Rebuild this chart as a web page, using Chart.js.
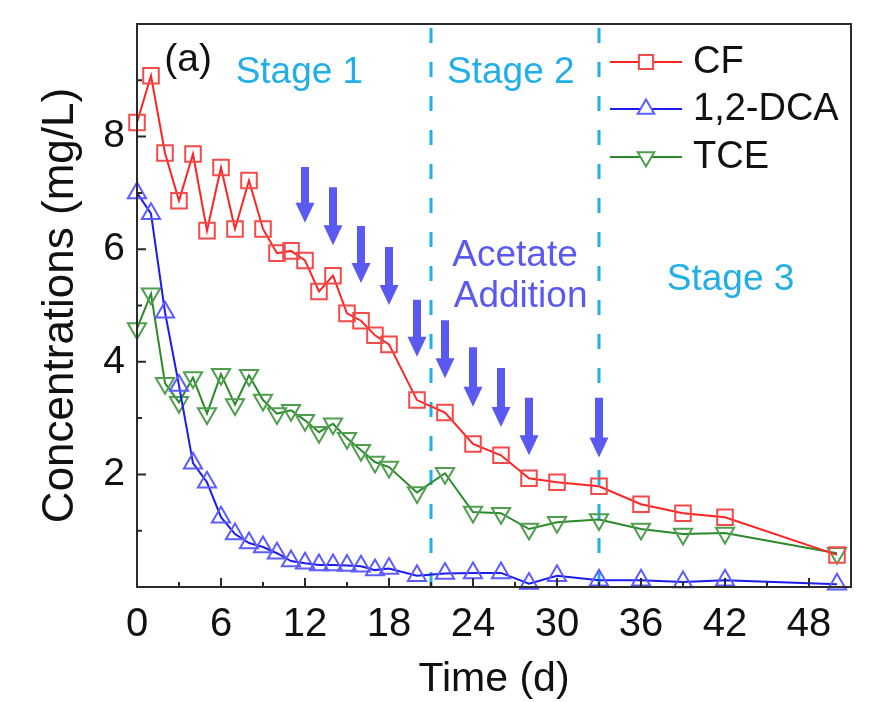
<!DOCTYPE html>
<html>
<head>
<meta charset="utf-8">
<script src="https://cdn.jsdelivr.net/npm/chart.js@4.4.0/dist/chart.umd.min.js"></script>
<style>
  html, body { margin: 0; padding: 0; background: #fff; }
  #wrap { width: 886px; height: 702px; }
</style>
</head>
<body>
<div id="wrap"><canvas id="myChart" width="886" height="702"></canvas></div>
<script>
"use strict"

// Data: time (d) and concentrations (mg/L)

const days = [0, 1, 2, 3, 4, 5, 6, 7, 8, 9, 10, 11, 12, 13, 14, 15, 16, 17, 18, 20, 22, 24, 26, 28, 30, 33, 36, 39, 42, 50];
const cf  = [8.25, 9.08, 7.71, 6.86, 7.69, 6.33, 7.45, 6.36, 7.22, 6.36, 5.93, 5.97, 5.80, 5.25, 5.53, 4.86, 4.73, 4.47, 4.31, 3.32, 3.10, 2.54, 2.34, 1.93, 1.86, 1.79, 1.47, 1.31, 1.24, 0.57];
const dca = [7.00, 6.63, 4.88, 3.58, 2.20, 1.86, 1.24, 0.94, 0.78, 0.71, 0.60, 0.46, 0.42, 0.39, 0.39, 0.38, 0.37, 0.30, 0.33, 0.20, 0.24, 0.25, 0.25, 0.06, 0.20, 0.12, 0.12, 0.09, 0.12, 0.05];
const tce = [4.59, 5.21, 3.62, 3.28, 3.72, 3.08, 3.78, 3.24, 3.76, 3.32, 3.08, 3.14, 2.96, 2.75, 2.90, 2.64, 2.43, 2.22, 2.13, 1.68, 2.02, 1.33, 1.31, 1.03, 1.15, 1.20, 1.03, 0.94, 0.96, 0.60];

const stageDays = [21, 33];

// acetate additions: day, arrow start and tip (mg/L)
const arrowDays = [12, 14, 16, 18, 20, 22, 24, 26, 28, 33];
const arrowFrom = [7.46, 7.10, 6.41, 6.04, 5.10, 4.74, 4.26, 3.89, 3.36, 3.36];
const arrowTo   = [6.47, 6.07, 5.40, 5.01, 4.09, 3.71, 3.20, 2.84, 2.34, 2.30];

const xTicks = [0, 6, 12, 18, 24, 30, 36, 42, 48];
const xMinor = [3, 9, 15, 21, 27, 33, 39, 45];
const yTicks = [2, 4, 6, 8];
const yMinor = [1, 3, 5, 7, 9];

const FONT = '"Liberation Sans", Arial, sans-serif';
const STAGE_BLUE = '#22aee6';
const ARROW_BLUE = '#5a5af2';

const pts = (vals) => days.map((d, i) => ({ x: d, y: vals[i] }));

function series(label, vals, color, marker, style, rot, radius) {
    return {
        label: label,
        data: pts(vals),
        borderColor: color,
        borderWidth: 2,
        pointStyle: style,
        pointRotation: rot,
        pointRadius: radius,
        pointHoverRadius: radius,
        pointBorderColor: marker,
        pointBorderWidth: 2,
        pointBackgroundColor: 'rgba(0,0,0,0)',
        clip: false,
        tension: 0,
    };
}

const stageSets = stageDays.map(d => ({
    label: '',
    data: [{ x: d, y: 0 }, { x: d, y: 10 }],
    borderColor: STAGE_BLUE,
    borderWidth: 3,
    borderDash: [15, 19],
    pointRadius: 0,
}));

const notes = [
    { text: '(a)', x: 3.65, y: 9.35, color: '#111', size: 39, base: 'middle' },
    { text: 'Stage 1', x: 11.6, y: 8.95, color: STAGE_BLUE, size: 37, base: 'alphabetic' },
    { text: 'Stage 2', x: 26.7, y: 8.95, color: STAGE_BLUE, size: 37, base: 'alphabetic' },
    { text: 'Acetate', x: 27.0, y: 5.70, color: ARROW_BLUE, size: 37, base: 'alphabetic' },
    { text: 'Addition', x: 27.4, y: 4.97, color: ARROW_BLUE, size: 37, base: 'alphabetic' },
    { text: 'Stage 3', x: 42.4, y: 5.28, color: STAGE_BLUE, size: 37, base: 'alphabetic' },
];

// frame, inner ticks, arrows, notes and legend

const overlay = {
    id: 'overlay',
    afterDatasetsDraw(chart) {
        const { ctx, chartArea: a, scales: { x, y } } = chart;
        ctx.save();

        ctx.strokeStyle = '#2b2b2b';
        ctx.lineWidth = 2;
        ctx.strokeRect(a.left, a.top, a.right - a.left, a.bottom - a.top);

        ctx.beginPath();
        xTicks.forEach(v => { const p = x.getPixelForValue(v); ctx.moveTo(p, a.bottom); ctx.lineTo(p, a.bottom - 9); });
        xMinor.forEach(v => { const p = x.getPixelForValue(v); ctx.moveTo(p, a.bottom); ctx.lineTo(p, a.bottom - 5); });
        yTicks.forEach(v => { const p = y.getPixelForValue(v); ctx.moveTo(a.left, p); ctx.lineTo(a.left + 9, p); });
        yMinor.forEach(v => { const p = y.getPixelForValue(v); ctx.moveTo(a.left, p); ctx.lineTo(a.left + 5, p); });
        ctx.stroke();

        ctx.fillStyle = ARROW_BLUE;
        arrowDays.forEach((d, i) => {
            const px = x.getPixelForValue(d);
            const y0 = y.getPixelForValue(arrowFrom[i]);
            const y1 = y.getPixelForValue(arrowTo[i]);
            const head = 20, hw = 9.5, sw = 4;
            ctx.beginPath();
            ctx.moveTo(px - sw, y0);
            ctx.lineTo(px + sw, y0);
            ctx.lineTo(px + sw, y1 - head);
            ctx.lineTo(px + hw, y1 - head);
            ctx.lineTo(px, y1);
            ctx.lineTo(px - hw, y1 - head);
            ctx.lineTo(px - sw, y1 - head);
            ctx.closePath();
            ctx.fill();
        });

        ctx.textAlign = 'center';
        notes.forEach(n => {
            ctx.font = n.size + 'px ' + FONT;
            ctx.fillStyle = n.color;
            ctx.textBaseline = n.base;
            ctx.fillText(n.text, x.getPixelForValue(n.x), y.getPixelForValue(n.y));
        });

        // legend
        const lx = a.left + 473, rows = [38, 85, 133];
        ctx.textAlign = 'left';
        ctx.textBaseline = 'middle';
        ctx.font = '38px ' + FONT;
        chart.data.datasets.slice(0, 3).forEach((ds, i) => {
            const ly = a.top + rows[i];
            ctx.strokeStyle = ds.borderColor;
            ctx.lineWidth = 2;
            ctx.beginPath();
            ctx.moveTo(lx, ly);
            ctx.lineTo(lx + 72, ly);
            ctx.stroke();
            ctx.fillStyle = '#fff';
            ctx.strokeStyle = ds.pointBorderColor;
            Chart.helpers.drawPoint(ctx, {
                pointStyle: ds.pointStyle, rotation: ds.pointRotation,
                radius: ds.pointRadius - 1, borderWidth: 2,
            }, lx + 36, ly);
            ctx.fillStyle = '#111';
            ctx.fillText(ds.label, lx + 83, ly + 1);
        });

        ctx.restore();
    }
};

const ctx = document.getElementById('myChart').getContext('2d');

const myChart = new Chart(ctx, {
    type: 'line',
    data: {
        datasets: [
            series('CF', cf, '#ff2424', '#f44a4a', 'rect', 0, 11),
            series('1,2-DCA', dca, '#1c1cf0', '#5c5cff', 'triangle', 0, 10.5),
            series('TCE', tce, '#2a8a2a', '#4f9f4f', 'triangle', 180, 10.5),
            ...stageSets,
        ],
    },
    options: {
        responsive: false,
        animation: false,
        events: [],
        layout: { padding: { top: 24, right: 35, left: 0, bottom: 0 } },
        plugins: {
            legend: { display: false },
            tooltip: { enabled: false },
        },
        scales: {
            x: {
                type: 'linear',
                min: 0,
                max: 51,
                afterBuildTicks: (s) => { s.ticks = xTicks.map(v => ({ value: v })); },
                afterFit: (s) => { s.height = 115; s.paddingLeft = 0; s.paddingRight = 0; },
                grid: { display: false, drawTicks: false },
                border: { display: false },
                ticks: { color: '#111', padding: 14, maxRotation: 0, autoSkip: false, font: { family: FONT, size: 40 } },
                title: { display: true, text: 'Time (d)', color: '#111', padding: { bottom: 2 }, font: { family: FONT, size: 41, lineHeight: 1.0 } },
            },
            y: {
                min: 0,
                max: 10,
                afterBuildTicks: (s) => { s.ticks = yTicks.map(v => ({ value: v })); },
                afterFit: (s) => { s.width = 137; s.paddingTop = 0; s.paddingBottom = 0; },
                grid: { display: false, drawTicks: false },
                border: { display: false },
                ticks: { color: '#111', padding: 12, font: { family: FONT, size: 39 } },
                title: { display: true, text: 'Concentrations (mg/L)', color: '#111', padding: { top: 34 }, font: { family: FONT, size: 44, lineHeight: 1.2 } },
            },
        },
    },
    plugins: [overlay],
});
</script>
</body>
</html>
